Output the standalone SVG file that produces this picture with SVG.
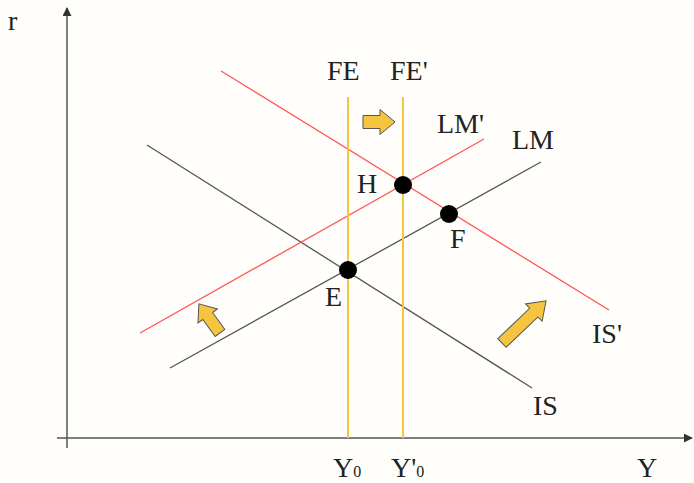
<svg xmlns="http://www.w3.org/2000/svg" width="694" height="483" viewBox="0 0 694 483">
<defs>
<style>
.t{font-family:"Liberation Serif","DejaVu Serif",serif;font-size:28px;fill:#222}
.s{font-family:"Liberation Serif","DejaVu Serif",serif;font-size:16px;fill:#222}
.ax{stroke:#555;stroke-width:1.5;fill:none}
.blk{stroke:#555;stroke-width:1.3;fill:none}
.red{stroke:#f55;stroke-width:1.3;fill:none}
.fe{stroke:#f5c542;stroke-width:2;fill:none}
.arr{fill:#f5c542;stroke:#555;stroke-width:1}
.dot{fill:#000}
</style>
<marker id="ah" viewBox="0 0 10 10" refX="9" refY="5" markerWidth="9" markerHeight="9" markerUnits="userSpaceOnUse" orient="auto"><path d="M0,0 L10,5 L0,10 Z" fill="#333"/></marker>
</defs>
<rect width="694" height="483" fill="#fffefa"/>
<g id="axes">
<line class="ax" x1="67" y1="448" x2="67" y2="8" marker-end="url(#ah)"/>
<line class="ax" x1="57" y1="438" x2="692" y2="438" marker-end="url(#ah)"/>
<text class="t" x="8" y="30">r</text>
<text class="t" x="637" y="477">Y</text>
</g>
<g id="connectors">
<line class="blk" x1="147" y1="145" x2="532" y2="388"/>
<line class="blk" x1="170" y1="368" x2="541" y2="162"/>
<line class="red" x1="221" y1="71" x2="609" y2="310"/>
<line class="red" x1="140" y1="333" x2="484" y2="139"/>
<line class="fe" x1="348" y1="97" x2="348" y2="438"/>
<line class="fe" x1="403" y1="97" x2="403" y2="438"/>
</g>
<g id="labels">
<text class="t" x="327" y="80">FE</text>
<text class="t" x="390" y="80">FE'</text>
<text class="t" x="437" y="133">LM'</text>
<text class="t" x="512" y="149">LM</text>
<text class="t" x="592" y="343">IS'</text>
<text class="t" x="533" y="415">IS</text>
<text class="t" x="333" y="477">Y<tspan class="s">0</tspan></text>
<text class="t" x="391" y="477">Y'<tspan class="s">0</tspan></text>
</g>
<g id="E"><circle class="dot" cx="348" cy="270" r="9"/><text class="t" x="325" y="306">E</text></g>
<g id="H"><circle class="dot" cx="403" cy="185" r="9"/><text class="t" x="357" y="193">H</text></g>
<g id="F"><circle class="dot" cx="449" cy="214" r="9"/><text class="t" x="450" y="248">F</text></g>
<g id="arrows">
<polygon class="arr" transform="translate(363,122)" points="0,-6.5 17,-6.5 17,-12.5 32,0 17,12.5 17,6.5 0,6.5"/>
<polygon class="arr" transform="translate(220,333) rotate(-125.9)" points="0,-6 21,-6 21,-12 36,0 21,12 21,6 0,6"/>
<polygon class="arr" transform="translate(502,343) rotate(-43.7)" points="0,-6 44,-6 44,-12 61,0 44,12 44,6 0,6"/>
</g>
</svg>
